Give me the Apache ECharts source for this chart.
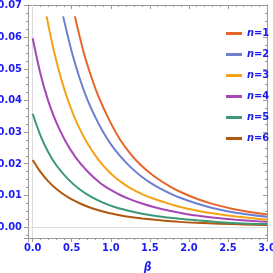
<!DOCTYPE html>
<html>
<head>
<meta charset="utf-8">
<script src="https://cdn.jsdelivr.net/npm/echarts@6/dist/echarts.min.js"></script>
<style>html,body{margin:0;padding:0;background:#fff}#c{width:273px;height:273px}</style>
</head>
<body>
<div id="c"></div>
<script>
// Series names
const seriesNames = ['n=1', 'n=2', 'n=3', 'n=4', 'n=5', 'n=6'];
const seriesColors = ['#E5662B', '#6E7FCF', '#F5A316', '#A548B6', '#3E9878', '#B0580F'];

// Values: beta and r for each curve
const beta1 = [0.54, 0.65, 0.75, 0.85, 0.99, 1.12, 1.25, 1.37, 1.55, 1.75, 1.88, 2.1, 2.3, 2.6, 3.0];
const r1    = [0.0666, 0.0555, 0.0475, 0.0408, 0.0333, 0.0276, 0.0232, 0.0199, 0.0161, 0.0129, 0.0112, 0.0089, 0.0073, 0.0055, 0.0039];

const beta2 = [0.39, 0.50, 0.60, 0.70, 0.80, 0.90, 1.00, 1.12, 1.25, 1.40, 1.55, 1.75, 1.88, 2.1, 2.3, 2.6, 3.0];
const r2    = [0.0666, 0.0554, 0.0471, 0.0403, 0.0348, 0.0301, 0.0262, 0.0224, 0.0190, 0.0158, 0.0133, 0.0107, 0.0093, 0.0074, 0.0060, 0.0045, 0.0032];

const beta3 = [0.178, 0.27, 0.37, 0.47, 0.57, 0.70, 0.85, 1.00, 1.12, 1.25, 1.40, 1.55, 1.75, 1.88, 2.1, 2.3, 2.6, 3.0];
const r3    = [0.0666, 0.0558, 0.0464, 0.0388, 0.0327, 0.0265, 0.0210, 0.0169, 0.0144, 0.0123, 0.0104, 0.0089, 0.0073, 0.0064, 0.0052, 0.0043, 0.0033, 0.0023];

const beta4 = [0.0, 0.1, 0.2, 0.3, 0.42, 0.55, 0.70, 0.86, 1.0, 1.12, 1.25, 1.40, 1.55, 1.75, 1.88, 2.1, 2.3, 2.6, 3.0];
const r4    = [0.0597, 0.0484, 0.0398, 0.0332, 0.0271, 0.0220, 0.0176, 0.0140, 0.0117, 0.0101, 0.0087, 0.0074, 0.0063, 0.0051, 0.0045, 0.0036, 0.0030, 0.0023, 0.0016];

const beta5 = [0.0, 0.1, 0.2, 0.3, 0.45, 0.6, 0.75, 0.9, 1.05, 1.2, 1.4, 1.6, 1.88, 2.1, 2.4, 2.7, 3.0];
const r5    = [0.0358, 0.0289, 0.0236, 0.0196, 0.0152, 0.0119, 0.0095, 0.0077, 0.0063, 0.0053, 0.0042, 0.0034, 0.0026, 0.0021, 0.0015, 0.0011, 0.0009];

const beta6 = [0.0, 0.1, 0.2, 0.3, 0.45, 0.6, 0.75, 0.9, 1.05, 1.2, 1.4, 1.6, 1.88, 2.1, 2.4, 2.7, 3.0];
const r6    = [0.0212, 0.0174, 0.0144, 0.0121, 0.0094, 0.0075, 0.0060, 0.0049, 0.0040, 0.0033, 0.0027, 0.0022, 0.0016, 0.0013, 0.0010, 0.0008, 0.0006];

const betas = [beta1, beta2, beta3, beta4, beta5, beta6];
const rs = [r1, r2, r3, r4, r5, r6];

const xLabelText = 'β';
const yLabelText = 'r';

const blue = '#1C1CF0';
const labelFont = "'Liberation Sans Narrow', 'DejaVu Sans Condensed', 'Liberation Sans', sans-serif";
const frameColor = '#9a9a9a';

const chart = echarts.init(document.getElementById('c'), null, {renderer: 'canvas'});

const series = seriesNames.map((name, i) => ({
  name: name,
  type: 'line',
  smooth: 0.3,
  showSymbol: false,
  xAxisIndex: 0,
  yAxisIndex: 0,
  data: betas[i].map((b, j) => [b, rs[i][j]]),
  lineStyle: {width: 2, color: seriesColors[i]},
  itemStyle: {color: seriesColors[i]},
  z: 10 - i,
  markLine: i === 0 ? {
    silent: true,
    symbol: 'none',
    label: {show: false},
    lineStyle: {color: '#dddddd', width: 1, type: 'solid'},
    data: [{xAxis: 0}, {yAxis: 0}]
  } : undefined
}));

const xMin = -0.06, xMax = 3.0, yMin = -0.0035, yMax = 0.0702;

chart.setOption({
  animation: false,
  backgroundColor: '#ffffff',
  grid: {left: 28, right: 6, top: 5, bottom: 35, containLabel: false, outerBoundsMode: 'none'},
  legend: {
    orient: 'vertical',
    left: 221,
    top: 23,
    itemGap: 10,
    itemWidth: 16,
    itemHeight: 3,
    icon: 'rect',
    data: seriesNames,
    formatter: n => '{i|n}{t|' + n.slice(1) + '}',
    textStyle: {
      color: blue,
      fontFamily: labelFont,
      fontWeight: 'bold',
      fontSize: 11,
      rich: {
        i: {fontStyle: 'italic', fontWeight: 'bold', color: blue, fontFamily: labelFont, fontSize: 11},
        t: {fontWeight: 'bold', color: blue, fontFamily: labelFont, fontSize: 11}
      }
    }
  },
  xAxis: [{
    type: 'value', min: xMin, max: xMax, splitNumber: 6,
    position: 'bottom',
    name: xLabelText, nameLocation: 'middle', nameGap: 24,
    nameTextStyle: {color: blue, fontStyle: 'italic', fontWeight: 'bold', fontSize: 12, fontFamily: labelFont},
    axisLine: {onZero: false, lineStyle: {color: frameColor, width: 1}},
    axisTick: {show: true, length: 4, inside: false, lineStyle: {color: frameColor}},
    minorTick: {show: true, splitNumber: 5, length: 2, lineStyle: {color: frameColor}},
    splitLine: {show: false},
    axisLabel: {color: blue, fontWeight: 'bold', fontSize: 11, fontFamily: labelFont, margin: 5,
      showMinLabel: false,
      formatter: v => (Math.abs(v * 2 - Math.round(v * 2)) < 1e-6 ? v.toFixed(1) : '')}
  }, {
    type: 'value', min: xMin, max: xMax, splitNumber: 6,
    position: 'top',
    axisLine: {onZero: false, lineStyle: {color: frameColor, width: 1}},
    axisTick: {show: true, length: 4, inside: true, lineStyle: {color: frameColor}},
    minorTick: {show: true, splitNumber: 5, length: 2, lineStyle: {color: frameColor}},
    splitLine: {show: false},
    axisLabel: {show: false}
  }],
  yAxis: [{
    type: 'value', min: yMin, max: yMax, splitNumber: 7,
    position: 'left',
    name: yLabelText, nameLocation: 'middle', nameGap: 23, nameRotate: 0,
    nameTextStyle: {color: blue, fontStyle: 'italic', fontWeight: 'bold', fontSize: 12, fontFamily: labelFont},
    axisLine: {onZero: false, lineStyle: {color: frameColor, width: 1}},
    axisTick: {show: true, length: 4, inside: false, lineStyle: {color: frameColor}},
    minorTick: {show: true, splitNumber: 4, length: 2, lineStyle: {color: frameColor}},
    splitLine: {show: false},
    axisLabel: {color: blue, fontWeight: 'bold', fontSize: 11, fontFamily: labelFont, margin: 6,
      showMinLabel: false, showMaxLabel: true,
      formatter: v => (Math.abs(v * 100 - Math.round(v * 100)) < 1e-6 ? v.toFixed(2) : '')}
  }, {
    type: 'value', min: yMin, max: yMax, splitNumber: 7,
    position: 'right',
    axisLine: {onZero: false, lineStyle: {color: frameColor, width: 1}},
    axisTick: {show: true, length: 4, inside: true, lineStyle: {color: frameColor}},
    minorTick: {show: true, splitNumber: 4, length: 2, lineStyle: {color: frameColor}},
    splitLine: {show: false},
    axisLabel: {show: false}
  }],
  series: series
});
</script>
</body>
</html>
